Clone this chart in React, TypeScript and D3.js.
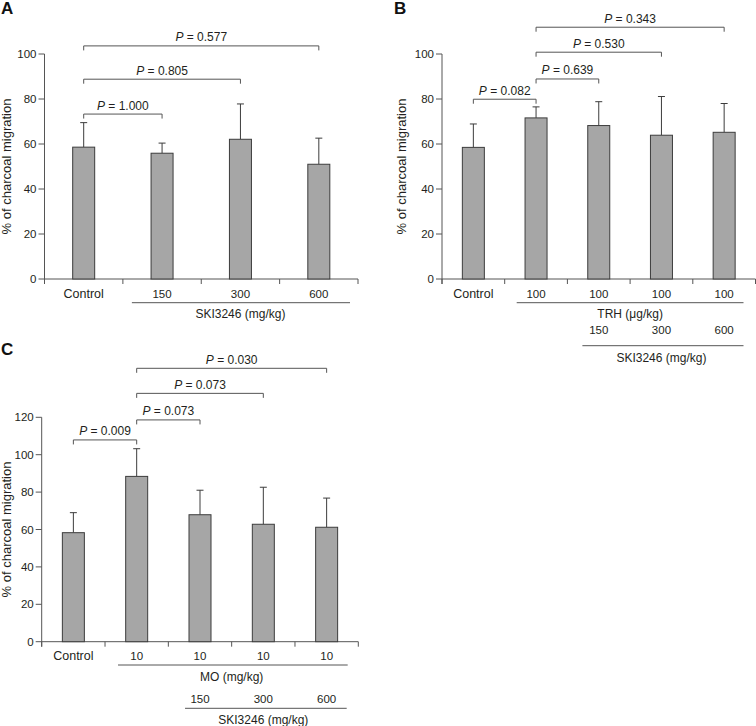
import React from "react";
import * as d3 from "d3";

// ---------- DATA ----------
const catsA = ["Control", "150", "300", "600"];
const meanA = [58.6, 55.9, 62.1, 51.0];
const errA = [69.5, 60.4, 77.8, 62.6];
const bracketsA = [
  { from: 0, to: 1, level: 73.3, p: "1.000" },
  { from: 0, to: 2, level: 88.8, p: "0.805" },
  { from: 0, to: 3, level: 103.6, p: "0.577" },
];
const ticksA = [0, 20, 40, 60, 80, 100];

const catsB = ["Control", "100", "100", "100", "100"];
const meanB = [58.5, 71.6, 68.2, 63.9, 65.2];
const errB = [68.9, 76.5, 78.8, 81.1, 78.0];
const bracketsB = [
  { from: 0, to: 1, level: 79.9, p: "0.082" },
  { from: 1, to: 2, level: 88.9, p: "0.639" },
  { from: 1, to: 3, level: 100.8, p: "0.530" },
  { from: 1, to: 4, level: 111.9, p: "0.343" },
];
const ticksB = [0, 20, 40, 60, 80, 100];

const catsC = ["Control", "10", "10", "10", "10"];
const meanC = [58.3, 88.4, 67.9, 62.8, 61.2];
const errC = [69.0, 103.2, 81.0, 82.6, 76.8];
const bracketsC = [
  { from: 0, to: 1, level: 107.9, p: "0.009" },
  { from: 1, to: 2, level: 118.6, p: "0.073" },
  { from: 1, to: 3, level: 132.8, p: "0.073" },
  { from: 1, to: 4, level: 146.2, p: "0.030" },
];
const ticksC = [0, 20, 40, 60, 80, 100, 120];

const doseLabels = ["150", "300", "600"];
const yTitle = "% of charcoal migration";

// ---------- STYLE ----------
const FONT = "'Liberation Sans', Arial, Helvetica, sans-serif";
const TXT = "#231f20";
const AXIS = "#555";
const BAR_FILL = "#a6a6a6";
const BAR_STROKE = "#3c3c3c";

type Bracket = { from: number; to: number; level: number; p: string };
type GroupRow = {
  labels?: string[];
  labelDy?: number;
  startBand: number;
  lineDy: number;
  text: string;
  textDy: number;
  insetL: number;
  insetR: number;
};

interface PanelProps {
  letter: string;
  letterX: number;
  letterY: number;
  x0: number;
  x1: number;
  yBottom: number;
  yTop: number;
  yMax: number;
  ticks: number[];
  cats: string[];
  means: number[];
  errs: number[];
  brackets: Bracket[];
  groups: GroupRow[];
  titleX: number;
}

function Panel(p: PanelProps) {
  const x = d3
    .scaleBand<number>()
    .domain(p.cats.map((_, i) => i))
    .range([p.x0, p.x1])
    .paddingInner(0)
    .paddingOuter(0);
  const y = d3.scaleLinear().domain([0, p.yMax]).range([p.yBottom, p.yTop]);
  const bw = 22;
  const bandW = x.bandwidth();
  const cx = (i: number) => (x(i) as number) + bandW / 2;
  const boundaries = d3.range(p.cats.length + 1).map((i) => p.x0 + i * bandW);
  const y0 = y(0);
  return (
    <g>
      <text x={p.letterX} y={p.letterY} fontSize={17} fontWeight="bold" fill="#111" fontFamily={FONT}>
        {p.letter}
      </text>
      <text
        transform={`translate(${p.titleX},${(p.yTop + p.yBottom) / 2}) rotate(-90)`}
        textAnchor="middle"
        fontSize={13}
        fill={TXT}
        fontFamily={FONT}
      >
        {yTitle}
      </text>
      <line x1={p.x0} x2={p.x0} y1={y(p.yMax)} y2={y0 + 5} stroke={AXIS} strokeWidth={1} />
      {p.ticks.map((t) => (
        <g key={t}>
          <line x1={p.x0 - 6} x2={p.x0} y1={y(t)} y2={y(t)} stroke={AXIS} strokeWidth={1} />
          <text
            x={p.x0 - 8}
            y={y(t)}
            dy="0.36em"
            textAnchor="end"
            fontSize={11.5}
            fill={TXT}
            fontFamily={FONT}
          >
            {t}
          </text>
        </g>
      ))}
      <line x1={p.x0} x2={p.x1} y1={y0} y2={y0} stroke={AXIS} strokeWidth={1} />
      {boundaries.map((b, i) => (
        <line key={i} x1={b} x2={b} y1={y0} y2={y0 + 5} stroke={AXIS} strokeWidth={1} />
      ))}
      {p.means.map((m, i) => (
        <g key={i}>
          <line x1={cx(i)} x2={cx(i)} y1={y(m)} y2={y(p.errs[i])} stroke={BAR_STROKE} strokeWidth={1} />
          <line x1={cx(i) - 3.5} x2={cx(i) + 3.5} y1={y(p.errs[i])} y2={y(p.errs[i])} stroke={BAR_STROKE} strokeWidth={1} />
          <rect
            x={cx(i) - bw / 2}
            y={y(m)}
            width={bw}
            height={y0 - y(m)}
            fill={BAR_FILL}
            stroke={BAR_STROKE}
            strokeWidth={1}
          />
        </g>
      ))}
      {p.cats.map((c, i) => (
        <text
          key={i}
          x={cx(i)}
          y={y0 + 18.5}
          textAnchor="middle"
          fontSize={c === "Control" ? 12.5 : 11.5}
          fill={TXT}
          fontFamily={FONT}
        >
          {c}
        </text>
      ))}
      {p.brackets.map((b, i) => {
        const ly = y(b.level);
        const xa = cx(b.from);
        const xb = cx(b.to);
        return (
          <g key={i}>
            <path
              d={`M${xa},${ly + 4.5}V${ly}H${xb}V${ly + 4.5}`}
              fill="none"
              stroke={AXIS}
              strokeWidth={1}
            />
            <text
              x={(xa + xb) / 2}
              y={ly - 4.5}
              textAnchor="middle"
              fontSize={12}
              fill={TXT}
              fontFamily={FONT}
            >
              <tspan fontStyle="italic">P</tspan>
              {" = " + b.p}
            </text>
          </g>
        );
      })}
      {p.groups.map((g, gi) => {
        const xa = p.x0 + g.startBand * bandW;
        const xb = p.x1;
        return (
          <g key={gi}>
            {g.labels &&
              g.labels.map((l, li) => (
                <text
                  key={li}
                  x={cx(g.startBand + li)}
                  y={y0 + (g.labelDy as number)}
                  textAnchor="middle"
                  fontSize={11.5}
                  fill={TXT}
                  fontFamily={FONT}
                >
                  {l}
                </text>
              ))}
            <line
              x1={xa + g.insetL}
              x2={xb - g.insetR}
              y1={y0 + g.lineDy}
              y2={y0 + g.lineDy}
              stroke={AXIS}
              strokeWidth={1}
            />
            <text
              x={(xa + xb) / 2}
              y={y0 + g.textDy}
              textAnchor="middle"
              fontSize={12}
              fill={TXT}
              fontFamily={FONT}
            >
              {g.text}
            </text>
          </g>
        );
      })}
    </g>
  );
}

export default function App() {
  return (
    <svg
      width={756}
      height={726}
      style={{ position: "absolute", left: 0, top: 0, background: "#fff" }}
      fontFamily={FONT}
    >
      <Panel
        letter="A"
        letterX={1}
        letterY={14}
        x0={44.5}
        x1={358}
        yBottom={279}
        yTop={54}
        yMax={100}
        ticks={ticksA}
        cats={catsA}
        means={meanA}
        errs={errA}
        brackets={bracketsA}
        titleX={11}
        groups={[
          { startBand: 1, lineDy: 23.7, text: "SKI3246 (mg/kg)", textDy: 38.5, insetL: 9, insetR: 8 },
        ]}
      />
      <Panel
        letter="B"
        letterX={394}
        letterY={14}
        x0={442}
        x1={755.5}
        yBottom={279}
        yTop={54}
        yMax={100}
        ticks={ticksB}
        cats={catsB}
        means={meanB}
        errs={errB}
        brackets={bracketsB}
        titleX={406}
        groups={[
          { startBand: 1, lineDy: 23.7, text: "TRH (\u03bcg/kg)", textDy: 39.3, insetL: 12, insetR: 12 },
          {
            startBand: 2,
            labels: doseLabels,
            labelDy: 55,
            lineDy: 66.7,
            text: "SKI3246 (mg/kg)",
            textDy: 83,
            insetL: 15,
            insetR: 12,
          },
        ]}
      />
      <Panel
        letter="C"
        letterX={1}
        letterY={355}
        x0={41.7}
        x1={358.3}
        yBottom={641.7}
        yTop={417.3}
        yMax={120}
        ticks={ticksC}
        cats={catsC}
        means={meanC}
        errs={errC}
        brackets={bracketsC}
        titleX={11}
        groups={[
          { startBand: 1, lineDy: 23.3, text: "MO (mg/kg)", textDy: 39.3, insetL: 13, insetR: 10.6 },
          {
            startBand: 2,
            labels: doseLabels,
            labelDy: 61.3,
            lineDy: 66.6,
            text: "SKI3246 (mg/kg)",
            textDy: 82.6,
            insetL: 16.7,
            insetR: 11.6,
          },
        ]}
      />
    </svg>
  );
}
